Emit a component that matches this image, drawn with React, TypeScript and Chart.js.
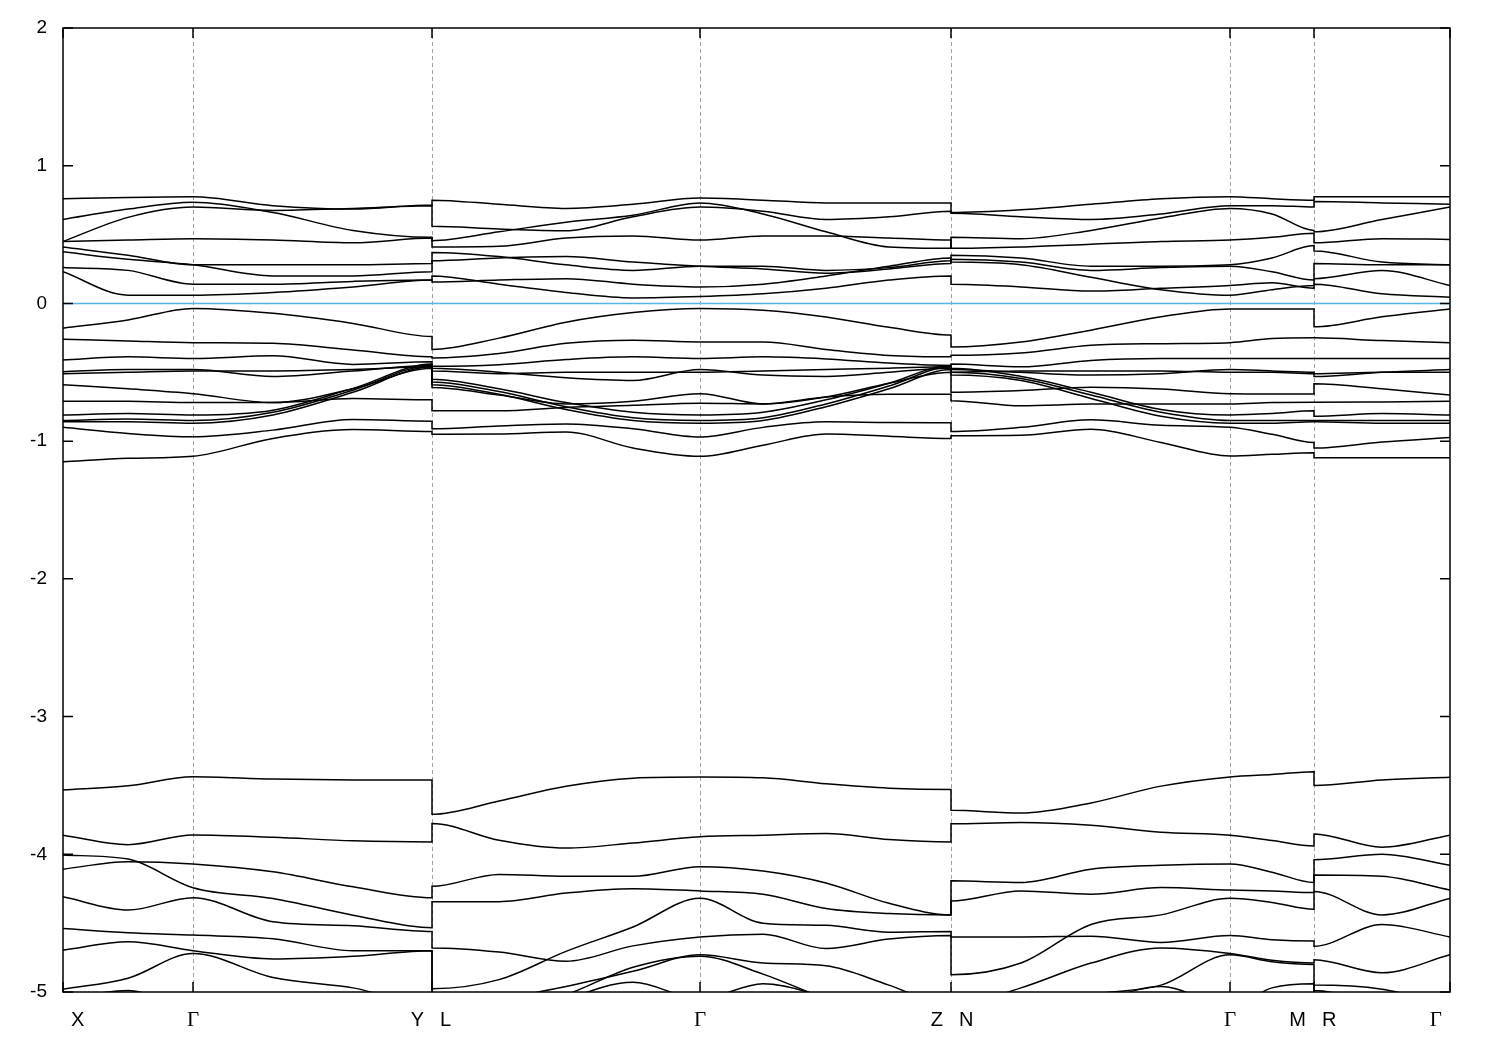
import React, { useEffect, useRef } from 'react';
import { Chart, registerables } from 'chart.js';

Chart.register(...registerables);

// k-path coordinate of every sample (duplicates mark the discontinuities Y|L, Z|N, M|R)
const KX = [0, 65, 130, 210, 290, 369, 369, 436, 503, 570, 637, 700, 763, 826, 888, 888, 958, 1028, 1098, 1167, 1209, 1251, 1251, 1319, 1387];

// high-symmetry points
const K_TICKS = [0, 130, 369, 637, 888, 1167, 1251, 1387];
const K_LABELS = ['X', 'Γ', 'Y|L', 'Γ', 'Z|N', 'Γ', 'M|R', 'Γ'];

const Y_MIN = -5;
const Y_MAX = 2;
const FERMI = 0;

// conduction bands (eV)
const CB1 = [0.76, 0.77, 0.775, 0.71, 0.685, 0.714, 0.75, 0.72, 0.69, 0.72, 0.765, 0.75, 0.73, 0.73, 0.73, 0.66, 0.68, 0.72, 0.76, 0.775, 0.76, 0.75, 0.775, 0.775, 0.775];
const CB2 = [0.61, 0.685, 0.734, 0.66, 0.53, 0.48, 0.455, 0.52, 0.59, 0.64, 0.73, 0.65, 0.52, 0.41, 0.40, 0.48, 0.47, 0.53, 0.62, 0.69, 0.65, 0.53, 0.52, 0.61, 0.70];
const CB3 = [0.45, 0.625, 0.70, 0.675, 0.69, 0.71, 0.56, 0.54, 0.528, 0.63, 0.70, 0.67, 0.61, 0.63, 0.67, 0.655, 0.63, 0.61, 0.65, 0.71, 0.71, 0.70, 0.74, 0.73, 0.72];
const CB4 = [0.45, 0.46, 0.47, 0.46, 0.44, 0.475, 0.41, 0.415, 0.475, 0.49, 0.46, 0.49, 0.49, 0.475, 0.46, 0.40, 0.41, 0.43, 0.45, 0.46, 0.48, 0.51, 0.44, 0.47, 0.465];
const CB5 = [0.41, 0.35, 0.28, 0.28, 0.28, 0.29, 0.37, 0.34, 0.28, 0.24, 0.27, 0.27, 0.24, 0.26, 0.31, 0.35, 0.33, 0.27, 0.27, 0.28, 0.33, 0.42, 0.38, 0.30, 0.28];
const CB6 = [0.375, 0.32, 0.28, 0.20, 0.20, 0.23, 0.31, 0.33, 0.34, 0.30, 0.27, 0.25, 0.22, 0.25, 0.29, 0.32, 0.30, 0.24, 0.26, 0.27, 0.23, 0.17, 0.18, 0.24, 0.13];
const CB7 = [0.26, 0.24, 0.14, 0.14, 0.16, 0.17, 0.155, 0.17, 0.18, 0.14, 0.12, 0.14, 0.20, 0.27, 0.33, 0.30, 0.28, 0.19, 0.10, 0.06, 0.10, 0.13, 0.14, 0.07, 0.045];
const CB8 = [0.23, 0.06, 0.06, 0.08, 0.12, 0.17, 0.20, 0.14, 0.08, 0.04, 0.05, 0.07, 0.11, 0.17, 0.20, 0.14, 0.12, 0.09, 0.11, 0.13, 0.15, 0.11, 0.29, 0.28, 0.28];

// upper valence bands (eV)
const VB1 = [-0.18, -0.12, -0.036, -0.072, -0.145, -0.24, -0.334, -0.252, -0.136, -0.066, -0.036, -0.049, -0.098, -0.173, -0.23, -0.316, -0.28, -0.194, -0.097, -0.04, -0.04, -0.04, -0.17, -0.097, -0.04];
const VB2 = [-0.26, -0.273, -0.285, -0.29, -0.338, -0.387, -0.396, -0.364, -0.29, -0.267, -0.28, -0.28, -0.334, -0.378, -0.388, -0.377, -0.36, -0.304, -0.292, -0.285, -0.255, -0.25, -0.25, -0.27, -0.285];
const VB3 = [-0.41, -0.388, -0.40, -0.38, -0.443, -0.423, -0.456, -0.445, -0.408, -0.388, -0.40, -0.388, -0.403, -0.433, -0.45, -0.44, -0.46, -0.414, -0.40, -0.40, -0.40, -0.40, -0.40, -0.40, -0.40];
const VB4 = [-0.496, -0.48, -0.48, -0.53, -0.49, -0.45, -0.47, -0.50, -0.54, -0.56, -0.48, -0.52, -0.53, -0.50, -0.47, -0.48, -0.50, -0.52, -0.51, -0.48, -0.49, -0.50, -0.53, -0.50, -0.48];
const VB5 = [-0.51, -0.50, -0.49, -0.49, -0.48, -0.46, -0.49, -0.51, -0.50, -0.50, -0.50, -0.49, -0.48, -0.47, -0.46, -0.50, -0.49, -0.49, -0.49, -0.50, -0.50, -0.51, -0.51, -0.50, -0.50];
const VB6 = [-0.59, -0.62, -0.655, -0.72, -0.62, -0.47, -0.61, -0.665, -0.73, -0.71, -0.655, -0.73, -0.68, -0.58, -0.50, -0.645, -0.633, -0.609, -0.621, -0.655, -0.657, -0.657, -0.584, -0.62, -0.665];
const VB7 = [-0.71, -0.71, -0.72, -0.72, -0.69, -0.70, -0.78, -0.78, -0.755, -0.74, -0.725, -0.73, -0.68, -0.66, -0.66, -0.706, -0.743, -0.731, -0.73, -0.73, -0.72, -0.718, -0.718, -0.715, -0.71];
const VB8 = [-0.81, -0.80, -0.81, -0.775, -0.617, -0.44, -0.55, -0.62, -0.72, -0.79, -0.81, -0.79, -0.70, -0.58, -0.45, -0.47, -0.53, -0.645, -0.77, -0.81, -0.80, -0.78, -0.82, -0.80, -0.81];
const VB9 = [-0.85, -0.84, -0.85, -0.79, -0.63, -0.45, -0.57, -0.64, -0.75, -0.83, -0.85, -0.83, -0.73, -0.60, -0.46, -0.50, -0.545, -0.665, -0.79, -0.85, -0.85, -0.85, -0.85, -0.85, -0.85];
const VB10 = [-0.86, -0.86, -0.87, -0.81, -0.645, -0.46, -0.59, -0.66, -0.77, -0.85, -0.87, -0.85, -0.75, -0.62, -0.48, -0.52, -0.56, -0.69, -0.82, -0.87, -0.87, -0.86, -0.86, -0.87, -0.87];
const VB11 = [-0.90, -0.944, -0.968, -0.92, -0.842, -0.855, -0.91, -0.89, -0.875, -0.91, -0.97, -0.90, -0.86, -0.865, -0.866, -0.93, -0.90, -0.845, -0.885, -0.90, -0.95, -1.01, -1.05, -1.006, -0.974];
const VB12 = [-1.15, -1.125, -1.11, -0.98, -0.915, -0.93, -0.95, -0.948, -0.933, -1.05, -1.11, -1.03, -0.948, -0.965, -0.98, -0.96, -0.957, -0.913, -1.01, -1.108, -1.096, -1.084, -1.12, -1.12, -1.12];

// lower valence bands (eV)
const LB1 = [-3.534, -3.503, -3.437, -3.454, -3.46, -3.46, -3.71, -3.613, -3.506, -3.447, -3.439, -3.445, -3.488, -3.52, -3.53, -3.681, -3.70, -3.627, -3.505, -3.438, -3.42, -3.40, -3.50, -3.46, -3.44];
const LB2 = [-3.861, -3.93, -3.86, -3.876, -3.902, -3.91, -3.776, -3.898, -3.955, -3.918, -3.873, -3.861, -3.849, -3.893, -3.91, -3.779, -3.77, -3.79, -3.84, -3.861, -3.90, -3.94, -3.852, -3.949, -3.861];
const LB3 = [-4.006, -4.035, -4.243, -4.321, -4.442, -4.534, -4.344, -4.344, -4.282, -4.25, -4.266, -4.29, -4.393, -4.43, -4.44, -4.34, -4.266, -4.29, -4.242, -4.26, -4.266, -4.278, -4.15, -4.16, -4.26];
const LB4 = [-4.108, -4.054, -4.07, -4.127, -4.236, -4.316, -4.233, -4.146, -4.16, -4.16, -4.09, -4.121, -4.208, -4.356, -4.44, -4.193, -4.205, -4.108, -4.08, -4.07, -4.13, -4.205, -4.04, -4.0, -4.08];
const LB5 = [-4.309, -4.405, -4.315, -4.49, -4.519, -4.56, -4.68, -4.71, -4.777, -4.665, -4.60, -4.58, -4.685, -4.616, -4.59, -4.60, -4.60, -4.595, -4.64, -4.59, -4.62, -4.63, -4.668, -4.51, -4.60];
const LB6 = [-4.539, -4.57, -4.587, -4.613, -4.70, -4.70, -4.976, -4.91, -4.705, -4.528, -4.32, -4.50, -4.516, -4.566, -4.56, -4.875, -4.79, -4.51, -4.44, -4.32, -4.35, -4.40, -4.27, -4.44, -4.32];
const LB7 = [-4.697, -4.636, -4.70, -4.76, -4.74, -4.70, -5.1, -5.05, -4.96, -4.85, -4.73, -4.79, -4.81, -4.95, -5.1, -5.1, -4.97, -4.79, -4.68, -4.72, -4.77, -4.79, -4.765, -4.86, -4.73];
const LB8 = [-4.98, -4.90, -4.72, -4.895, -4.97, -5.1, -5.2, -5.15, -5.02, -4.82, -4.74, -4.87, -5.05, -5.2, -5.3, -5.3, -5.15, -5.02, -4.95, -4.73, -4.78, -4.80, -4.95, -4.98, -5.1];
const LB9 = [-5.05, -4.99, -5.1, -5.05, -5.3, -5.4, -5.4, -5.3, -5.06, -4.93, -5.05, -4.94, -5.05, -5.3, -5.4, -5.4, -5.3, -5.1, -4.96, -5.1, -4.97, -4.94, -4.99, -5.1, -5.2];

const BANDS = [CB1, CB2, CB3, CB4, CB5, CB6, CB7, CB8, VB1, VB2, VB3, VB4, VB5, VB6, VB7, VB8, VB9, VB10, VB11, VB12, LB1, LB2, LB3, LB4, LB5, LB6, LB7, LB8, LB9];

const SANS = '"Liberation Sans", Arial, Helvetica, sans-serif';

const framePlugin = {
  id: 'bandFrame',
  beforeDatasetsDraw(chart: any) {
    const { ctx, chartArea: a, scales } = chart;
    const xs = scales.x;
    ctx.save();
    ctx.strokeStyle = '#a0a0a0';
    ctx.lineWidth = 1;
    ctx.setLineDash([4, 3]);
    K_TICKS.slice(1, -1).forEach((k) => {
      const x = Math.round(xs.getPixelForValue(k)) + 0.5;
      ctx.beginPath();
      ctx.moveTo(x, a.top);
      ctx.lineTo(x, a.bottom);
      ctx.stroke();
    });
    ctx.restore();
  },
  afterDatasetsDraw(chart: any) {
    const { ctx, chartArea: a, scales } = chart;
    const xs = scales.x;
    const ys = scales.y;
    ctx.save();
    ctx.setLineDash([]);
    ctx.strokeStyle = '#000';
    ctx.lineWidth = 1.5;
    ctx.strokeRect(a.left, a.top, a.right - a.left, a.bottom - a.top);
    ctx.beginPath();
    for (let v = Y_MIN; v <= Y_MAX; v++) {
      const y = ys.getPixelForValue(v);
      ctx.moveTo(a.left, y);
      ctx.lineTo(a.left + 10, y);
      ctx.moveTo(a.right, y);
      ctx.lineTo(a.right - 10, y);
    }
    K_TICKS.forEach((k) => {
      const x = xs.getPixelForValue(k);
      ctx.moveTo(x, a.bottom);
      ctx.lineTo(x, a.bottom - 10);
      ctx.moveTo(x, a.top);
      ctx.lineTo(x, a.top + 10);
    });
    ctx.stroke();

    ctx.fillStyle = '#000';
    ctx.textBaseline = 'middle';
    const ly = a.bottom + 28;
    const draw = (t: string, px: number, align: CanvasTextAlign) => {
      ctx.font = t === 'Γ' ? '21px "Liberation Serif", "Times New Roman", serif' : '20px ' + SANS;
      ctx.textAlign = align;
      ctx.fillText(t, px, ly);
    };
    K_LABELS.forEach((lab, i) => {
      const x = xs.getPixelForValue(K_TICKS[i]);
      const parts = lab.split('|');
      if (parts.length === 2) {
        draw(parts[0], x - 8, 'right');
        draw(parts[1], x + 8, 'left');
      } else if (i === 0) {
        draw(lab, x + 8, 'left');
      } else if (i === K_LABELS.length - 1) {
        draw(lab, x - 8, 'right');
      } else {
        draw(lab, x, 'center');
      }
    });
    ctx.restore();
  },
};

export default function App() {
  const ref = useRef<HTMLCanvasElement>(null);

  useEffect(() => {
    if (!ref.current) return;
    const datasets: any[] = BANDS.map((band) => ({
      data: KX.map((x, i) => ({ x, y: band[i] })),
      borderColor: '#000000',
      borderWidth: 1.5,
      pointRadius: 0,
      fill: false,
      cubicInterpolationMode: 'monotone',
    }));
    datasets.push({
      data: [
        { x: K_TICKS[0], y: FERMI },
        { x: K_TICKS[K_TICKS.length - 1], y: FERMI },
      ],
      borderColor: '#56b4e9',
      borderWidth: 1.5,
      pointRadius: 0,
      fill: false,
    });

    const chart = new Chart(ref.current, {
      type: 'line',
      data: { datasets },
      options: {
        animation: false,
        responsive: false,
        maintainAspectRatio: false,
        events: [],
        layout: { padding: { top: 28, right: 50, bottom: 58, left: 0 } },
        plugins: { legend: { display: false }, tooltip: { enabled: false } },
        scales: {
          x: {
            type: 'linear',
            min: K_TICKS[0],
            max: K_TICKS[K_TICKS.length - 1],
            display: false,
          },
          y: {
            min: Y_MIN,
            max: Y_MAX,
            afterFit: (s: any) => {
              s.width = 63;
            },
            grid: { display: false, drawTicks: false },
            border: { display: false },
            ticks: {
              stepSize: 1,
              padding: 16,
              color: '#000',
              font: { family: SANS, size: 19 },
            },
          },
        },
      } as any,
      plugins: [framePlugin],
    });
    return () => chart.destroy();
  }, []);

  return (
    <div style={{ position: 'absolute', left: 0, top: 0, width: 1500, height: 1050, background: '#fff' }}>
      <canvas ref={ref} width={1500} height={1050} style={{ display: 'block', width: 1500, height: 1050 }} />
    </div>
  );
}
